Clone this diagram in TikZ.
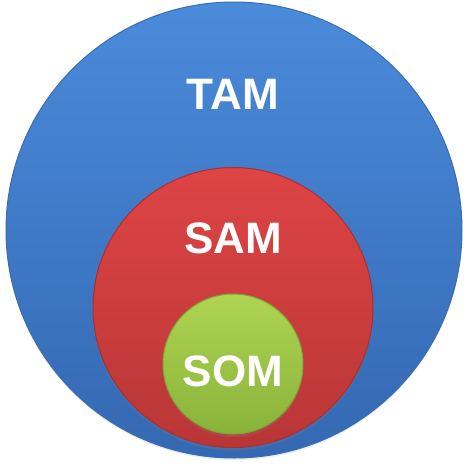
\documentclass[tikz,border=0pt]{standalone}
\usepackage{fontspec}
\setmainfont{Liberation Sans}
\usetikzlibrary{shadows}
\definecolor{bluetop}{HTML}{4A8BDA}
\definecolor{bluebot}{HTML}{3468B2}
\definecolor{blueedge}{HTML}{3A6DB0}
\definecolor{redtop}{HTML}{DE4444}
\definecolor{redbot}{HTML}{B93636}
\definecolor{rededge}{HTML}{A83030}
\definecolor{greentop}{HTML}{AED452}
\definecolor{greenbot}{HTML}{8AB33A}
\definecolor{greenedge}{HTML}{7FA536}
\tikzset{
  ring/.style={circle, inner sep=0pt, line width=1pt},
  label text/.style={text=white, font=\fontsize{44}{44}\selectfont\bfseries, inner sep=0pt}
}
\begin{document}
\begin{tikzpicture}[x=1pt,y=-1pt]
\useasboundingbox (0,0) rectangle (467,467);
\fill[white] (0,0) rectangle (467,467);
\node[ring, minimum size=456pt, top color=bluetop, bottom color=bluebot, draw=blueedge,
      drop shadow={shadow xshift=0pt, shadow yshift=-2pt, opacity=0.15}] (tam) at (234,230) {};
\node[ring, minimum size=280pt, top color=redtop, bottom color=redbot, draw=rededge,
      drop shadow={shadow xshift=0pt, shadow yshift=-3pt, opacity=0.25}] (sam) at (233,307.5) {};
\node[ring, minimum size=140pt, top color=greentop, bottom color=greenbot, draw=greenedge,
      drop shadow={shadow xshift=0pt, shadow yshift=-3pt, opacity=0.25}] (som) at (233,364) {};
\node[label text] (tamlabel) at (233,94) {TAM};
\node[label text] (samlabel) at (233,238) {SAM};
\node[label text] (somlabel) at (233,371) {SOM};
\end{tikzpicture}
\end{document}
